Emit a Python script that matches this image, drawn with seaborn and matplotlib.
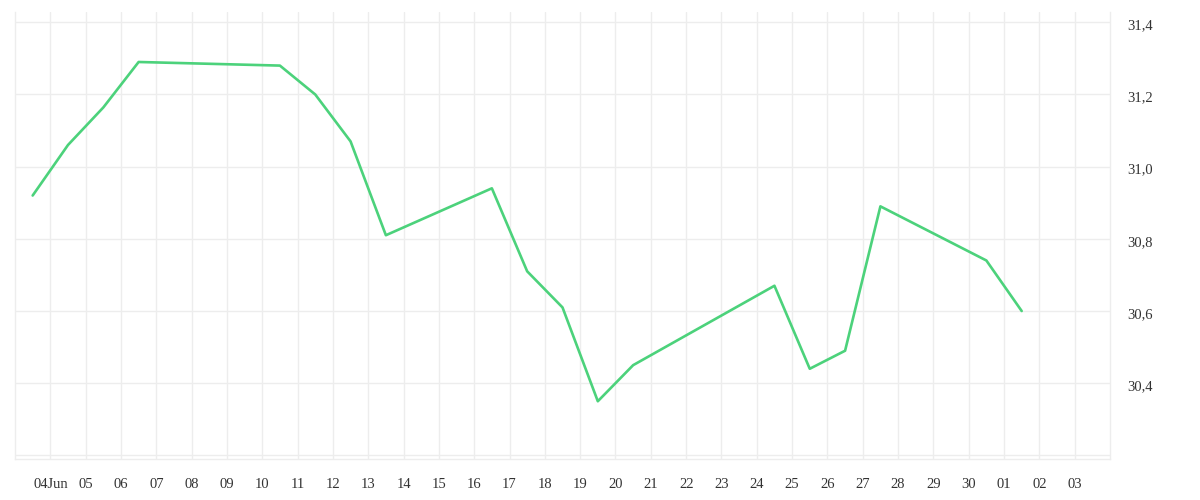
import matplotlib
matplotlib.use("Agg")
import matplotlib.pyplot as plt
import matplotlib.transforms as mtransforms
import seaborn as sns
import pandas as pd

# daily readings (taken at noon)
dates = ["2023-06-03 12:00", "2023-06-04 12:00", "2023-06-05 12:00", "2023-06-06 12:00",
         "2023-06-10 12:00", "2023-06-11 12:00", "2023-06-12 12:00", "2023-06-13 12:00",
         "2023-06-16 12:00", "2023-06-17 12:00", "2023-06-18 12:00", "2023-06-19 12:00",
         "2023-06-20 12:00", "2023-06-24 12:00", "2023-06-25 12:00", "2023-06-26 12:00",
         "2023-06-27 12:00", "2023-06-30 12:00", "2023-07-01 12:00"]
values = [30.92, 31.06, 31.164, 31.29,
          31.28, 31.20, 31.07, 30.81,
          30.94, 30.71, 30.61, 30.35,
          30.45, 30.67, 30.44, 30.49,
          30.89, 30.74, 30.60]
y_ticks = [30.2, 30.4, 30.6, 30.8, 31.0, 31.2, 31.4]

df = pd.DataFrame({"date": pd.to_datetime(dates), "value": values})

sns.set_style("white")
plt.rcParams["font.family"] = ["Liberation Serif", "DejaVu Serif"]

fig = plt.figure(figsize=(12, 5), dpi=100)
ax = fig.add_axes([0.0125, 0.082, 0.9125, 0.894])

sns.lineplot(data=df, x="date", y="value", color="#4cd27b", linewidth=1.9, ax=ax)

grid_c = "#ededed"
ax.set_xlim(pd.Timestamp("2023-06-03"), pd.Timestamp("2023-07-04"))
ax.set_ylim(30.190, 31.4285)

ticks = pd.date_range("2023-06-04", "2023-07-03", freq="D")
ax.set_xticks(ticks)
labels = [d.strftime("%d") for d in ticks]
labels[0] = "04Jun"
ax.set_xticklabels(labels)

ax.set_yticks(y_ticks)
ax.set_yticklabels(["" if v < 30.3 else f"{v:.1f}".replace(".", ",") for v in y_ticks])
ax.yaxis.tick_right()

ax.grid(True, color=grid_c, linewidth=1)
ax.tick_params(axis="x", length=6.5, width=1, color=grid_c, pad=7.5, labelsize=10.5, labelcolor="#333333")
ax.tick_params(axis="y", length=0, pad=12.5, labelsize=10.5, labelcolor="#333333")
# nudge y labels slightly below their gridlines, as in the original
offset = mtransforms.ScaledTranslation(0, -2 / 100, fig.dpi_scale_trans)
for lab in ax.get_yticklabels():
    lab.set_transform(lab.get_transform() + offset)

for s in ["left", "right", "bottom"]:
    ax.spines[s].set_visible(True)
    ax.spines[s].set_color(grid_c)
    ax.spines[s].set_linewidth(1)
ax.spines["top"].set_visible(False)

ax.set_xlabel("")
ax.set_ylabel("")

fig.savefig("out.png", dpi=100)
